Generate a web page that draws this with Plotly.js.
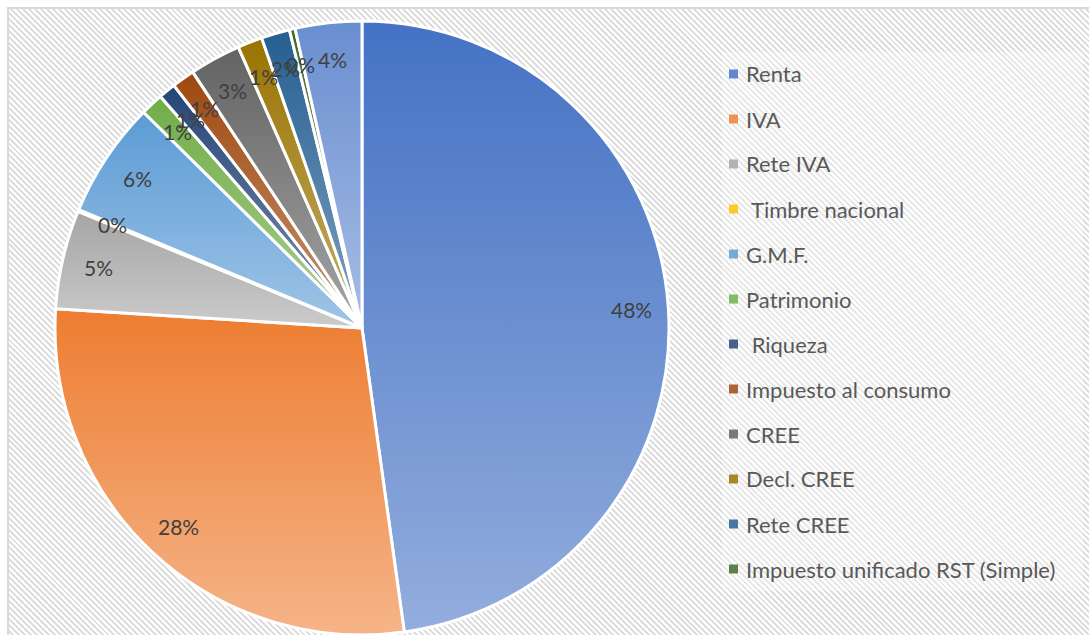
<!DOCTYPE html>
<html>
<head>
<meta charset="utf-8">
<script src="https://cdn.plot.ly/plotly-3.0.1.min.js"></script>
<style>
  html, body { margin: 0; padding: 0; background: #ffffff; }
  #wrap { position: relative; width: 1089px; height: 635px; overflow: hidden; background: #ffffff; }
  #bg {
    position: absolute; left: 7px; top: 7px; right: 0; bottom: 0;
    border-left: 2px solid #d9d9d9; border-top: 2px solid #d9d9d9;
    background: repeating-linear-gradient(45deg, #ffffff 0px, #ffffff 2.1px, #dedede 2.1px, #dedede 4.2px);
  }
  #chart { position: absolute; left: 0; top: 0; width: 1089px; height: 635px; }
</style>
</head>
<body>
<div id="wrap">
  <div id="bg"></div>
  <div id="chart"></div>
</div>
<script>
// ---- data ----
const labels = ['Renta', 'IVA', 'Rete IVA', ' Timbre nacional', 'G.M.F.', 'Patrimonio', ' Riqueza',
                'Impuesto al consumo', 'CREE', 'Decl. CREE', 'Rete CREE', 'Impuesto unificado RST (Simple)', 'Otros'];
const values = [47.8, 28.2, 5.2, 0.1, 6.1, 1.2, 0.9, 1.2, 2.7, 1.3, 1.5, 0.3, 3.5];
const colors = ['#4472C4', '#ED7D31', '#A5A5A5', '#FFC000', '#5B9BD5', '#70AD47', '#264478',
                '#9E480E', '#636363', '#997300', '#255E91', '#43682B', '#698ED0'];
const legendCount = 12; // entries visible in the legend

// ---- layout constants ----
const W = 1089, H = 635;
const domX = [55 / W, 669 / W];
const domY = [0, 614 / H];
const labelFont = { family: 'Lato, "Open Sans", sans-serif', size: 21, color: '#404040' };
const legendFont = { family: 'Lato, "Open Sans", sans-serif', size: 22, color: '#595959' };

function tint(hex, f) {
  const n = parseInt(hex.slice(1), 16);
  const r = (n >> 16) & 255, g = (n >> 8) & 255, b = n & 255;
  const m = c => Math.round(c + (255 - c) * f);
  return 'rgb(' + m(r) + ',' + m(g) + ',' + m(b) + ')';
}

// percentage labels positioned along each slice's mid-angle
const total = values.reduce((a, b) => a + b, 0);
const cx = W * (domX[0] + domX[1]) / 2;
const cyB = H * (domY[0] + domY[1]) / 2;
const R = Math.min(W * (domX[1] - domX[0]), H * (domY[1] - domY[0])) / 2;
const annotations = [];
let cum = 0;
values.forEach((v, i) => {
  const mid = (cum + v / 2) / total * 2 * Math.PI;
  cum += v;
  const k = 0.88;
  annotations.push({
    xref: 'paper', yref: 'paper',
    x: (cx + k * R * Math.sin(mid)) / W,
    y: (cyB + k * R * Math.cos(mid)) / H,
    text: Math.round(v / total * 100) + '%',
    showarrow: false, xanchor: 'center', yanchor: 'middle',
    font: labelFont
  });
});

// legend (custom, first legendCount entries)
const shapes = [{
  type: 'rect', xref: 'paper', yref: 'paper', layer: 'below',
  x0: 722 / W, x1: 1083 / W, y0: 1 - 591 / H, y1: 1 - 52 / H,
  fillcolor: 'rgba(255,255,255,0.3)', line: { width: 0 }
}];
const legTop = 74, legStep = 45;
for (let i = 0; i < legendCount; i++) {
  const yc = legTop + i * legStep;
  shapes.push({
    type: 'rect', xref: 'paper', yref: 'paper',
    x0: 729 / W, x1: 738 / W, y0: 1 - (yc + 4.5) / H, y1: 1 - (yc - 4.5) / H,
    fillcolor: tint(colors[i], 0.15), line: { width: 0 }
  });
  annotations.push({
    xref: 'paper', yref: 'paper', x: 744 / W, y: 1 - yc / H,
    text: labels[i].replace(/^ /, '\u00a0'),
    showarrow: false, xanchor: 'left', yanchor: 'middle',
    font: legendFont
  });
}

const trace = {
  type: 'pie',
  labels: labels,
  values: values,
  sort: false,
  direction: 'clockwise',
  rotation: 0,
  textinfo: 'none',
  hoverinfo: 'label+percent',
  showlegend: false,
  automargin: false,
  domain: { x: domX, y: domY },
  marker: { colors: colors, line: { color: '#ffffff', width: 3 } }
};

const layout = {
  width: W, height: H,
  margin: { l: 0, r: 0, t: 0, b: 0 },
  paper_bgcolor: 'rgba(0,0,0,0)',
  plot_bgcolor: 'rgba(0,0,0,0)',
  showlegend: false,
  annotations: annotations,
  shapes: shapes
};

Plotly.newPlot('chart', [trace], layout, { displayModeBar: false, staticPlot: true }).then(gd => {
  // vertical gradient fills like the original
  const svg = gd.querySelector('svg.main-svg');
  let defs = svg.querySelector('defs');
  const NS = 'http://www.w3.org/2000/svg';
  const paths = gd.querySelectorAll('.pielayer .slice path.surface');
  paths.forEach((p, i) => {
    const c = colors[i % colors.length];
    const g = document.createElementNS(NS, 'linearGradient');
    g.setAttribute('id', 'sliceGrad' + i);
    g.setAttribute('x1', '0'); g.setAttribute('y1', '0');
    g.setAttribute('x2', '0'); g.setAttribute('y2', '1');
    const s0 = document.createElementNS(NS, 'stop');
    s0.setAttribute('offset', '0'); s0.setAttribute('stop-color', c);
    const s1 = document.createElementNS(NS, 'stop');
    s1.setAttribute('offset', '1'); s1.setAttribute('stop-color', tint(c, 0.42));
    g.appendChild(s0); g.appendChild(s1);
    defs.appendChild(g);
    p.style.fill = 'url(#sliceGrad' + i + ')';
  });
});
</script>
</body>
</html>
